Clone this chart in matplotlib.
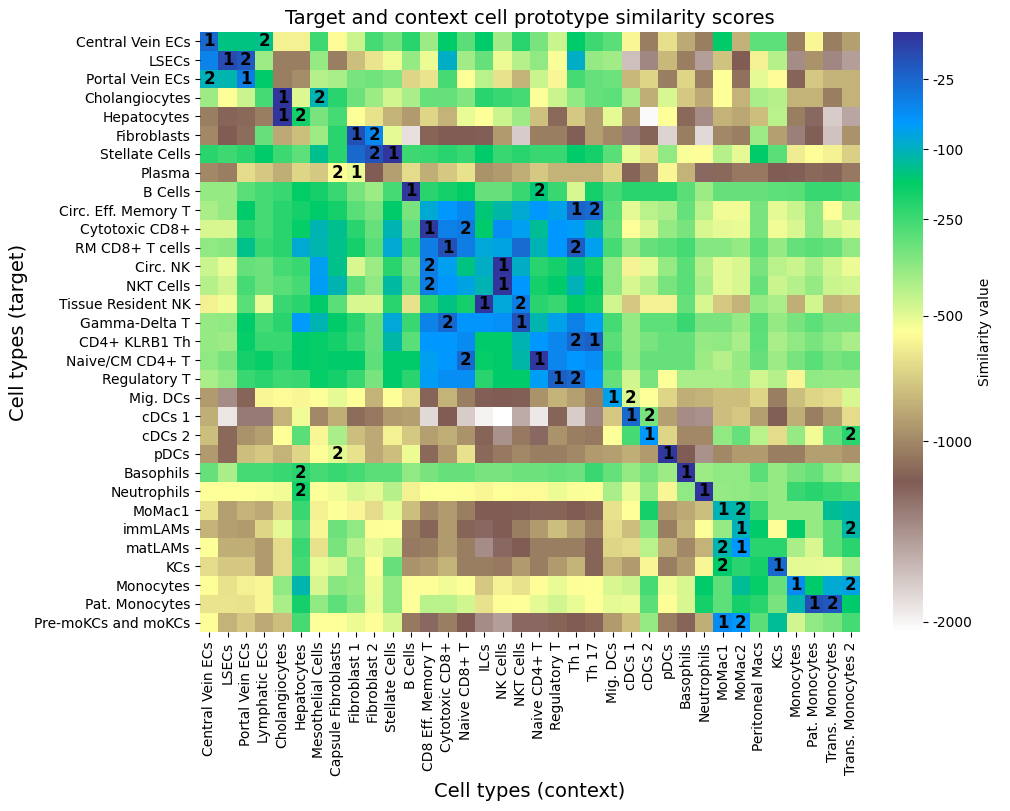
import numpy as np
import matplotlib
matplotlib.use("Agg")
import matplotlib.pyplot as plt
from matplotlib.colors import FuncNorm

target_types = ["Central Vein ECs", "LSECs", "Portal Vein ECs", "Cholangiocytes", "Hepatocytes",
                "Fibroblasts", "Stellate Cells", "Plasma", "B Cells", "Circ. Eff. Memory T",
                "Cytotoxic CD8+", "RM CD8+ T cells", "Circ. NK", "NKT Cells", "Tissue Resident NK",
                "Gamma-Delta T", "CD4+ KLRB1 Th", "Naive/CM CD4+ T", "Regulatory T", "Mig. DCs",
                "cDCs 1", "cDCs 2", "pDCs", "Basophils", "Neutrophils", "MoMac1", "immLAMs",
                "matLAMs", "KCs", "Monocytes", "Pat. Monocytes", "Pre-moKCs and moKCs"]

context_types = ["Central Vein ECs", "LSECs", "Portal Vein ECs", "Lymphatic ECs", "Cholangiocytes",
                 "Hepatocytes", "Mesothelial Cells", "Capsule Fibroblasts", "Fibroblast 1",
                 "Fibroblast 2", "Stellate Cells", "B Cells", "CD8 Eff. Memory T", "Cytotoxic CD8+",
                 "Naive CD8+ T", "ILCs", "NK Cells", "NKT Cells", "Naive CD4+ T", "Regulatory T",
                 "Th 1", "Th 17", "Mig. DCs", "cDCs 1", "cDCs 2", "pDCs", "Basophils", "Neutrophils",
                 "MoMac1", "MoMac2", "Peritoneal Macs", "KCs", "Monocytes", "Pat. Monocytes",
                 "Trans. Monocytes", "Trans. Monocytes 2"]

similarity = [
    [-25, -140, -140, -135, -600, -600, -250, -570, -454, -260, -320, -217, -380, -157, -286, -160, -390, -217,
     -330, -454, -157, -250, -286, -580, -1043, -662, -860, -1043, -157, -830, -290, -290, -1043, -580, -1043, -907],
    [-45, -10, -16, -380, -1043, -1043, -370, -1043, -780, -640, -530, -370, -520, -95, -390, -300, -520, -420,
     -365, -540, -95, -370, -390, -1690, -1400, -800, -1043, -1510, -760, -1190, -600, -420, -1420, -960, -1400, -1510],
    [-100, -110, -40, -157, -1043, -980, -420, -400, -330, -320, -340, -700, -640, -260, -553, -430, -650, -820,
     -454, -580, -260, -300, -310, -800, -700, -1040, -700, -1040, -553, -1100, -500, -570, -1150, -740, -820, -820],
    [-380, -560, -454, -260, -3, -490, -107, -217, -310, -380, -465, -400, -300, -300, -340, -217, -240, -260,
     -553, -454, -365, -300, -290, -400, -840, -480, -740, -860, -553, -820, -400, -420, -820, -820, -1040, -820],
    [-1043, -1150, -1130, -1040, -3, -190, -330, -260, -553, -650, -820, -920, -700, -820, -510, -553, -454, -380,
     -770, -1130, -740, -900, -500, -920, -2030, -553, -1130, -1420, -820, -870, -780, -430, -1040, -1250, -1760, -1560],
    [-1000, -1190, -1120, -300, -860, -780, -380, -217, -12, -50, -500, -1870, -1160, -1190, -1190, -1200, -920, -1760,
     -1040, -1040, -1200, -900, -1000, -1330, -1150, -1800, -1040, -1840, -1000, -1040, -380, -900, -1360, -1180, -1700, -960],
    [-217, -250, -217, -160, -250, -290, -130, -217, -25, -14, -3, -250, -240, -217, -240, -160, -240, -217,
     -240, -240, -160, -190, -286, -510, -650, -365, -540, -555, -420, -500, -157, -286, -620, -560, -600, -720],
    [-1000, -1040, -670, -740, -840, -700, -740, -560, -510, -1190, -900, -670, -840, -740, -650, -960, -920, -840,
     -740, -820, -820, -820, -700, -1150, -1000, -580, -820, -1250, -1130, -1060, -1060, -1190, -1200, -1130, -1150, -1060],
    [-370, -370, -286, -260, -240, -165, -190, -240, -330, -380, -260, -3, -217, -190, -165, -300, -300, -240,
     -150, -240, -480, -190, -260, -217, -217, -217, -286, -380, -300, -300, -300, -290, -286, -240, -240, -260],
    [-400, -370, -160, -260, -217, -190, -160, -190, -286, -330, -157, -330, -90, -66, -50, -150, -115, -88,
     -66, -75, -22, -28, -286, -500, -430, -400, -300, -430, -530, -530, -330, -500, -454, -365, -550, -420],
    [-480, -480, -217, -260, -217, -170, -105, -130, -217, -300, -107, -300, -4, -42, -38, -157, -55, -72,
     -128, -66, -70, -112, -300, -553, -480, -370, -330, -480, -500, -510, -330, -530, -480, -365, -465, -500],
    [-365, -350, -135, -240, -217, -90, -110, -135, -190, -286, -88, -240, -40, -12, -40, -85, -80, -28,
     -105, -66, -18, -72, -260, -365, -300, -286, -260, -345, -345, -370, -286, -370, -300, -286, -300, -365],
    [-454, -510, -300, -310, -260, -240, -72, -135, -480, -380, -217, -330, -40, -72, -140, -95, -3, -95,
     -217, -190, -130, -190, -365, -590, -500, -370, -286, -420, -500, -480, -330, -430, -454, -400, -465, -520],
    [-420, -465, -260, -310, -286, -260, -70, -107, -286, -365, -120, -290, -40, -66, -78, -107, -3, -66,
     -190, -157, -100, -157, -365, -480, -420, -330, -286, -400, -500, -480, -300, -454, -420, -370, -454, -465],
    [-600, -525, -286, -510, -240, -217, -157, -286, -480, -480, -217, -650, -217, -140, -190, -3, -85, -40,
     -217, -240, -157, -190, -465, -740, -600, -600, -300, -480, -740, -820, -370, -400, -840, -465, -820, -780],
    [-370, -365, -157, -260, -217, -68, -107, -157, -217, -300, -85, -240, -45, -25, -62, -62, -58, -14,
     -110, -75, -42, -70, -260, -370, -290, -290, -240, -330, -330, -370, -286, -370, -330, -290, -330, -330],
    [-370, -380, -170, -240, -240, -157, -170, -190, -240, -300, -112, -286, -66, -66, -52, -157, -157, -107,
     -66, -48, -26, -20, -286, -370, -330, -300, -300, -370, -365, -400, -290, -400, -365, -330, -365, -400],
    [-365, -330, -190, -170, -217, -157, -170, -157, -160, -290, -157, -157, -72, -66, -25, -170, -157, -112,
     -4, -48, -66, -55, -260, -365, -300, -300, -300, -380, -420, -370, -300, -380, -330, -286, -330, -310],
    [-400, -365, -240, -217, -250, -240, -170, -190, -240, -330, -160, -217, -70, -55, -55, -217, -157, -157,
     -70, -20, -26, -66, -300, -465, -330, -553, -400, -400, -400, -380, -465, -420, -580, -365, -370, -370],
    [-920, -1420, -1150, -580, -570, -580, -553, -500, -556, -820, -556, -670, -1150, -820, -1040, -1200, -1190, -1200,
     -960, -820, -900, -1040, -75, -480, -553, -700, -840, -820, -780, -780, -700, -1040, -780, -700, -670, -480],
    [-840, -1900, -1340, -1340, -820, -530, -1000, -840, -1120, -1060, -920, -900, -1840, -1190, -1760, -1980, -2068, -1580,
     -1920, -1150, -1760, -1400, -740, -25, -330, -900, -1420, -1450, -780, -740, -900, -1200, -840, -1040, -900, -670],
    [-780, -1130, -960, -900, -550, -286, -580, -400, -780, -860, -600, -740, -900, -840, -960, -1150, -1450, -1060,
     -1250, -960, -1040, -1060, -553, -260, -66, -700, -1000, -1000, -365, -300, -430, -670, -370, -530, -300, -217],
    [-920, -1130, -780, -740, -820, -700, -556, -495, -650, -860, -780, -520, -1130, -920, -650, -1130, -1060, -1000,
     -1040, -1040, -1000, -920, -900, -840, -920, -4, -1190, -1450, -1000, -920, -920, -1040, -1040, -900, -900, -960],
    [-300, -400, -260, -260, -240, -217, -260, -240, -260, -286, -286, -365, -330, -300, -300, -330, -330, -310,
     -310, -300, -310, -240, -300, -370, -330, -380, -3, -380, -365, -365, -286, -370, -330, -300, -365, -400],
    [-550, -553, -553, -545, -530, -190, -550, -530, -480, -500, -420, -600, -550, -550, -560, -580, -553, -570,
     -570, -520, -540, -553, -400, -510, -370, -580, -365, -3, -370, -365, -350, -370, -240, -217, -240, -260],
    [-650, -900, -820, -860, -700, -240, -600, -553, -580, -670, -500, -780, -1000, -920, -1040, -1190, -1190, -1200,
     -1160, -1160, -1190, -1160, -650, -553, -190, -920, -860, -780, -105, -112, -240, -370, -370, -370, -125, -115],
    [-820, -900, -920, -700, -500, -286, -580, -310, -365, -556, -553, -1040, -1150, -920, -1150, -1250, -1190, -1040,
     -920, -780, -900, -1040, -670, -780, -350, -1040, -820, -553, -370, -100, -157, -556, -160, -370, -286, -112],
    [-550, -840, -840, -920, -670, -240, -650, -330, -420, -500, -454, -1060, -1040, -920, -1040, -1420, -1250, -1190,
     -1040, -1040, -1040, -1150, -700, -670, -430, -840, -1000, -820, -110, -66, -217, -217, -400, -480, -286, -217],
    [-670, -740, -740, -920, -670, -260, -510, -480, -365, -553, -300, -960, -920, -820, -1040, -1040, -1060, -920,
     -1040, -920, -820, -1150, -820, -920, -580, -1040, -920, -580, -157, -217, -190, -25, -500, -500, -510, -400],
    [-556, -650, -600, -580, -365, -110, -480, -350, -370, -520, -365, -556, -556, -530, -553, -740, -600, -650,
     -556, -510, -556, -553, -480, -454, -260, -530, -480, -157, -290, -128, -170, -300, -52, -157, -90, -80],
    [-640, -640, -650, -580, -400, -190, -365, -290, -350, -510, -365, -553, -430, -430, -465, -650, -556, -550,
     -500, -465, -510, -553, -500, -510, -286, -556, -480, -190, -290, -190, -217, -330, -110, -12, -16, -157],
    [-556, -820, -740, -860, -780, -260, -550, -553, -520, -556, -480, -1060, -1250, -1040, -1190, -1420, -1510, -1250,
     -1250, -1160, -1190, -1160, -920, -780, -370, -1040, -1150, -840, -52, -66, -286, -128, -465, -365, -330, -260],
]

# column index of rank-1 and rank-2 context match for each target row
rank1_cols = [0, 1, 2, 4, 4, 8, 10, 8, 11, 20, 12, 13, 16, 16, 15, 17, 21, 18, 19, 22, 23, 24, 25, 26, 27,
              28, 29, 29, 31, 32, 33, 28]
rank2_cols = [3, 2, 0, 6, 5, 9, 9, 7, 18, 21, 14, 20, 12, 12, 17, 13, 20, 14, 20, 23, 24, 35, 7, 5, 5,
              29, 35, 28, 28, 35, 34, 29]

cbar_ticks = [-25, -100, -250, -500, -1000, -2000]

# colour-scale knots (|value| -> fraction of colormap)
scale_abs = np.array([2.37, 25, 100, 250, 500, 1000, 2000, 2068])
scale_pos = np.array([1.0, 0.921, 0.8045, 0.688, 0.5267, 0.3183, 0.0167, 0.0])

data = np.array(similarity, dtype=float)
nrow, ncol = data.shape

s_knots = np.sqrt(scale_abs)


def _fwd(x):
    s = np.sqrt(np.clip(-np.asarray(x, dtype=float), 0, None))
    return np.interp(-s, -s_knots[::-1], scale_pos[::-1])


def _inv(u):
    s = np.interp(np.asarray(u, dtype=float), scale_pos[::-1], s_knots[::-1])
    return -(s ** 2)


norm = FuncNorm((_fwd, _inv), vmin=-scale_abs[-1], vmax=-scale_abs[0])

fig = plt.figure(figsize=(10.1, 8.11), dpi=100)
ax = fig.add_axes([200 / 1010, (811 - 632) / 811, 660 / 1010, 600 / 811])
cax = fig.add_axes([893 / 1010, (811 - 632) / 811, 30 / 1010, 600 / 811])

mesh = ax.pcolormesh(np.arange(ncol + 1), np.arange(nrow + 1), data, cmap="terrain_r", norm=norm)
ax.set_xlim(0, ncol)
ax.set_ylim(nrow, 0)
for s in ax.spines.values():
    s.set_visible(False)

ax.set_xticks(np.arange(ncol) + 0.5)
ax.set_xticklabels(context_types, rotation=90, fontsize=10)
ax.set_yticks(np.arange(nrow) + 0.5)
ax.set_yticklabels(target_types, fontsize=10)

for r in range(nrow):
    ax.text(rank1_cols[r] + 0.5, r + 0.5, "1", ha="center", va="center",
            fontsize=12, fontweight="bold", color="black")
    ax.text(rank2_cols[r] + 0.5, r + 0.5, "2", ha="center", va="center",
            fontsize=12, fontweight="bold", color="black")

ax.set_title("Target and context cell prototype similarity scores", fontsize=14)
ax.set_xlabel("Cell types (context)", fontsize=14)
ax.set_ylabel("Cell types (target)", fontsize=14)

cb = fig.colorbar(mesh, cax=cax)
cb.set_ticks(cbar_ticks)
cb.set_ticklabels([str(t) for t in cbar_ticks])
cb.outline.set_visible(False)
cb.set_label("Similarity value", fontsize=10)

fig.savefig("out.png", dpi=100)
